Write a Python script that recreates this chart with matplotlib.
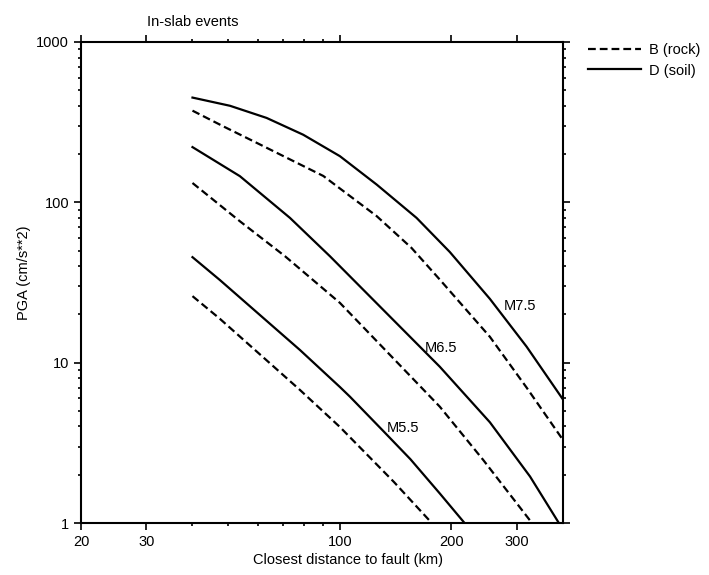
import numpy as np
import matplotlib
matplotlib.use("Agg")
import matplotlib.pyplot as plt
from matplotlib.ticker import FixedLocator, NullFormatter, FixedFormatter

plt.rcParams['font.family'] = ['Liberation Sans', 'DejaVu Sans']

# distances (km) and PGA (cm/s**2)
d_m75_soil = [40, 50.5, 63.4, 79.6, 100, 125.7, 161, 198, 254, 319, 400]
pga_m75_soil = [450, 400, 336, 264, 194, 129, 80, 49, 25, 12.6, 5.9]
d_m75_rock = [40, 48.4, 59.6, 90.2, 100, 125.7, 156, 186, 254, 319, 400]
pga_m75_rock = [373, 298, 235, 146, 122, 82, 52, 33, 14.5, 7.0, 3.3]

d_m65_soil = [40, 53.7, 73.3, 94, 186, 254, 326, 390]
pga_m65_soil = [221, 145.6, 80, 46.1, 9.44, 4.25, 1.95, 1.0]
d_m65_rock = [40, 53.7, 71.1, 100, 186, 243.8, 330]
pga_m65_rock = [132, 76.2, 46.1, 23.6, 5.32, 2.47, 1.0]

d_m55_soil = [40, 47.4, 78, 100, 106.4, 130.9, 155, 186, 217]
pga_m55_soil = [45.5, 32.8, 12.0, 7.05, 6.14, 3.75, 2.5, 1.53, 1.0]
d_m55_rock = [40, 47.4, 78, 100, 140, 177]
pga_m55_rock = [26, 18.8, 6.76, 3.97, 1.8, 1.0]

mag_labels = ["M7.5", "M6.5", "M5.5"]
label_x = [306, 188, 148]
label_y = [22.6, 12.4, 3.9]

fig = plt.figure(figsize=(7.09, 5.75), dpi=100)
ax = fig.add_axes([0.1142, 0.0904, 0.6798, 0.8366])

lw = 1.6
dash = (0, (3.5, 1.8))
ax.plot(d_m75_rock, pga_m75_rock, color='black', lw=lw, ls=dash, label='B (rock)')
ax.plot(d_m75_soil, pga_m75_soil, color='black', lw=lw, label='D (soil)')
ax.plot(d_m65_rock, pga_m65_rock, color='black', lw=lw, ls=dash)
ax.plot(d_m65_soil, pga_m65_soil, color='black', lw=lw)
ax.plot(d_m55_rock, pga_m55_rock, color='black', lw=lw, ls=dash)
ax.plot(d_m55_soil, pga_m55_soil, color='black', lw=lw)

for s, x, y in zip(mag_labels, label_x, label_y):
    ax.text(x, y, s, fontsize=10.5, ha='center', va='center')

ax.set_xscale('log')
ax.set_yscale('log')
ax.set_xlim(20, 400)
ax.set_ylim(1, 1000)

ax.xaxis.set_major_locator(FixedLocator([20, 30, 100, 200, 300]))
ax.xaxis.set_major_formatter(FixedFormatter(['20', '30', '100', '200', '300']))
ax.xaxis.set_minor_locator(FixedLocator([40, 50, 60, 70, 80, 90]))
ax.xaxis.set_minor_formatter(NullFormatter())
ax.yaxis.set_major_locator(FixedLocator([1, 10, 100, 1000]))
ax.yaxis.set_major_formatter(FixedFormatter(['1', '10', '100', '1000']))
ax.yaxis.set_minor_locator(FixedLocator([m * 10 ** e for e in range(3) for m in range(2, 10)]))
ax.yaxis.set_minor_formatter(NullFormatter())

ax.tick_params(which='both', direction='out', top=True, right=True, labelsize=10.5)
ax.tick_params(which='major', length=5, width=1.2)
ax.tick_params(which='minor', length=2.5, width=1.2)
for sp in ax.spines.values():
    sp.set_linewidth(1.5)

ax.set_xlabel("Closest distance to fault (km)", fontsize=10.5)
ax.xaxis.set_label_coords(0.554, -0.062)
ax.set_ylabel("PGA (cm/s**2)", fontsize=10.5)
ax.yaxis.set_label_coords(-0.104, 0.52)
ax.text(40, 1330, "In-slab events", fontsize=10.5, ha='center', va='center')

ax.legend(loc='upper left', bbox_to_anchor=(1.04, 1.01), frameon=False,
          fontsize=10.5, handlelength=3.6, handletextpad=0.6, labelspacing=0.45,
          borderaxespad=0)

fig.savefig("out.png", dpi=100)
